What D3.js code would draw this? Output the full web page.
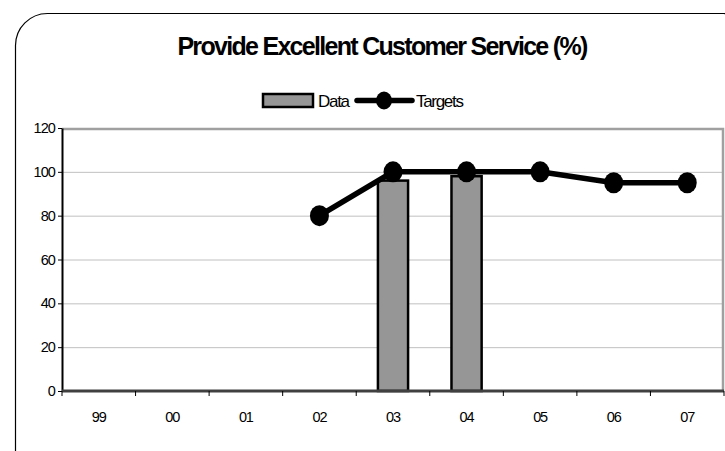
<!DOCTYPE html>
<html>
<head>
<meta charset="utf-8">
<script src="https://cdn.jsdelivr.net/npm/d3@7"></script>
<style>
  html, body { margin: 0; padding: 0; background: #fff; }
  svg { display: block; font-family: "Liberation Sans", Arial, sans-serif; }
</style>
</head>
<body>
<svg id="chart" width="725" height="451"></svg>
<script>
// Fiscal years shown on the x axis
const years = ["99", "00", "01", "02", "03", "04", "05", "06", "07"];
// Actual results (%), null where no result was reported
const dataValues = [null, null, null, null, 96, 98, null, null, null];
// Targets (%), null where no target was set
const targetValues = [null, null, null, 80, 100, 100, 100, 95, 95];
// Y axis ticks
const yTicks = [0, 20, 40, 60, 80, 100, 120];

const svg = d3.select("#chart");
const W = 725, H = 451;
const margin = { left: 62, right: 1, top: 128, bottom: 60 };
const plotW = W - margin.left - margin.right;
const plotH = H - margin.top - margin.bottom;

// Rounded frame around the whole chart
svg.append("rect")
  .attr("x", 15.5).attr("y", 13.5)
  .attr("width", 740).attr("height", 470)
  .attr("rx", 32).attr("ry", 32)
  .attr("fill", "none").attr("stroke", "#000").attr("stroke-width", 1.2);

// Title
svg.append("text")
  .attr("x", 382).attr("y", 55)
  .attr("text-anchor", "middle")
  .attr("font-size", 25).attr("font-weight", "bold")
  .attr("letter-spacing", -1.7)
  .text("Provide Excellent Customer Service (%)");

const x = d3.scaleBand().domain(years).range([0, plotW]);
const y = d3.scaleLinear().domain([0, 120]).range([plotH, 0]);

const g = svg.append("g").attr("transform", `translate(${margin.left},${margin.top})`);

// Horizontal gridlines
g.append("g").selectAll("line")
  .data(yTicks.filter(t => t > 0 && t < 120))
  .join("line")
  .attr("x1", 0).attr("x2", plotW)
  .attr("y1", d => y(d) + 0.5).attr("y2", d => y(d) + 0.5)
  .attr("stroke", "#c0c0c0").attr("stroke-width", 1);

// Plot frame: top and right edges
g.append("path")
  .attr("d", `M0,${y(120) + 1}H${plotW - 1}V${plotH}`)
  .attr("fill", "none").attr("stroke", "#a0a0a0").attr("stroke-width", 2.5);

// Bars for actual results
const barW = x.bandwidth() * 0.41;
g.append("g").selectAll("rect")
  .data(years.map((yr, i) => ({ yr, v: dataValues[i] })).filter(d => d.v != null))
  .join("rect")
  .attr("x", d => x(d.yr) + x.bandwidth() / 2 - barW / 2)
  .attr("y", d => y(d.v))
  .attr("width", barW)
  .attr("height", d => plotH - y(d.v))
  .attr("fill", "#969696").attr("stroke", "#000").attr("stroke-width", 2.5);

// Y axis
const yAxis = g.append("g")
  .call(d3.axisLeft(y).tickValues(yTicks).tickSize(4).tickSizeOuter(0).tickPadding(3));
yAxis.select(".domain").attr("stroke", "#000").attr("stroke-width", 2);
yAxis.selectAll(".tick line").attr("stroke", "#000");
yAxis.selectAll("text").attr("font-size", 14.5).attr("letter-spacing", -0.9)
  .attr("font-family", "Liberation Sans, Arial, sans-serif").attr("fill", "#000");

// X axis with tick marks between categories
const xAxis = g.append("g").attr("transform", `translate(0,${plotH})`);
xAxis.append("line")
  .attr("x1", 0).attr("x2", plotW)
  .attr("stroke", "#404040").attr("stroke-width", 3);
xAxis.selectAll(".sep")
  .data(d3.range(years.length + 1))
  .join("line")
  .attr("x1", i => i * x.step()).attr("x2", i => i * x.step())
  .attr("y1", 0).attr("y2", 5)
  .attr("stroke", "#000").attr("stroke-width", 1);
xAxis.selectAll(".lbl")
  .data(years)
  .join("text")
  .attr("x", d => x(d) + x.bandwidth() / 2)
  .attr("y", 31)
  .attr("text-anchor", "middle")
  .attr("font-size", 14.5).attr("letter-spacing", -1.1)
  .text(d => d);

// Target line and markers
const targetPts = years.map((yr, i) => ({ yr, v: targetValues[i] })).filter(d => d.v != null);
const cx = d => x(d.yr) + x.bandwidth() / 2;
g.append("path")
  .datum(targetPts)
  .attr("d", d3.line().x(cx).y(d => y(d.v)))
  .attr("fill", "none").attr("stroke", "#000").attr("stroke-width", 5.5);
g.append("g").selectAll("ellipse")
  .data(targetPts)
  .join("ellipse")
  .attr("cx", cx).attr("cy", d => y(d.v))
  .attr("rx", 9.5).attr("ry", 10.5)
  .attr("fill", "#000");

// Legend
const lg = svg.append("g");
lg.append("rect")
  .attr("x", 263).attr("y", 94).attr("width", 50).attr("height", 13)
  .attr("fill", "#969696").attr("stroke", "#000").attr("stroke-width", 2.5);
lg.append("text")
  .attr("x", 318).attr("y", 107)
  .attr("font-size", 17).attr("letter-spacing", -1.3)
  .text("Data");
lg.append("line")
  .attr("x1", 357).attr("x2", 412).attr("y1", 100.5).attr("y2", 100.5)
  .attr("stroke", "#000").attr("stroke-width", 5.5).attr("stroke-linecap", "round");
lg.append("ellipse")
  .attr("cx", 384).attr("cy", 100.5).attr("rx", 8).attr("ry", 9)
  .attr("fill", "#000");
lg.append("text")
  .attr("x", 416).attr("y", 107)
  .attr("font-size", 17).attr("letter-spacing", -1.3)
  .text("Targets");
</script>
</body>
</html>
